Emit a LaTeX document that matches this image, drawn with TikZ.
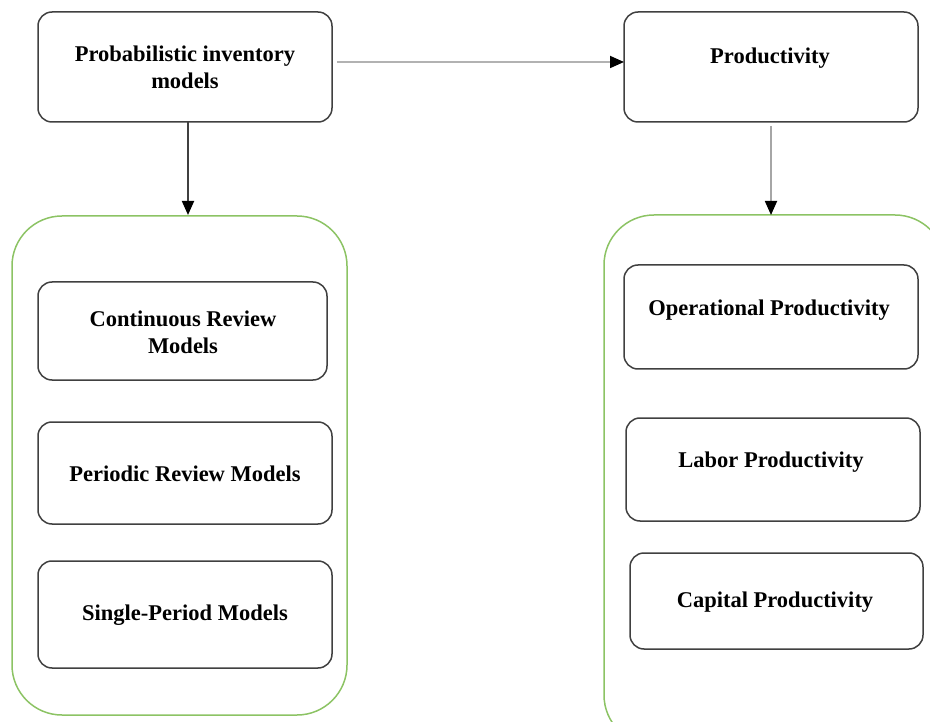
\documentclass[tikz,border=0pt]{standalone}
\usepackage{fontspec}
\setmainfont{Liberation Serif}
\usetikzlibrary{arrows.meta}
\begin{document}
\begin{tikzpicture}[x=1pt,y=-1pt,
  box/.style={draw=black!75,line width=1.5pt,rounded corners=14pt,fill=white},
  cont/.style={draw={rgb,255:red,140;green,195;blue,100},line width=1.5pt,rounded corners=50pt},
  lbl/.style={font=\bfseries\fontsize{22.5}{27}\selectfont,align=center},
  tip/.style={-{Triangle[length=14pt,width=12pt,color=black,fill=black]}},
  arr/.style={tip,line width=1.8pt}]
\useasboundingbox (0,0) rectangle (930,722);
\begin{scope}
\clip (0,0) rectangle (930,722);
\draw[cont] (12,216) rectangle (347,715);
\draw[cont] (604,215) rectangle (945,745);
\end{scope}
\draw[box] (38,12) rectangle (332,122);
\node[lbl] (pim) at (185,67) {Probabilistic inventory\\models};
\coordinate (pimS) at (188,122);
\coordinate (pimE) at (337,62);
\draw[box] (624,12) rectangle (918,122);
\node[lbl] (prod) at (770,58) {Productivity};
\coordinate (prodW) at (624,62);
\coordinate (prodS) at (771,126);
\coordinate (lc) at (188,215);
\coordinate (rc) at (771,215);
\draw[box] (38,282) rectangle (327,380);
\node[lbl] (crm) at (183,332) {Continuous Review\\Models};
\draw[box] (38,422) rectangle (332,524);
\node[lbl] (prm) at (185,474) {Periodic Review Models};
\draw[box] (38,561) rectangle (332,668);
\node[lbl] (spm) at (185,615) {Single-Period Models};
\draw[box] (624,265) rectangle (918,369);
\node[lbl] (op) at (769,310) {Operational Productivity};
\draw[box] (626,418) rectangle (920,521);
\node[lbl] (lp) at (771,462) {Labor Productivity};
\draw[box] (630,553) rectangle (923,649);
\node[lbl] (cp) at (775,602) {Capital Productivity};
\draw[arr,black!30] (pimE) -- (prodW);
\draw[arr,black!75] (pimS) -- (lc);
\draw[arr,black!35] (prodS) -- (rc);
\end{tikzpicture}
\end{document}
